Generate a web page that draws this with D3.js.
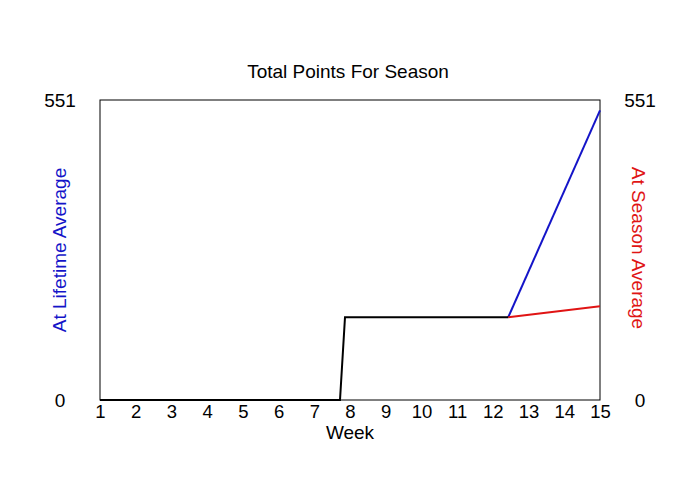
<!DOCTYPE html>
<html>
<head>
<meta charset="utf-8">
<script src="https://cdn.jsdelivr.net/npm/d3@7"></script>
<style>
  body { margin: 0; background: #fff; }
  text { font-family: Arial, "Liberation Sans", sans-serif; }
</style>
</head>
<body>
<div id="chart"></div>
<script>
// données
const weeks = [1, 7.72, 7.86, 12.43];
const actualPts = [0, 0, 152, 152];
const projWeeks = [12.43, 15];
const lifetimePts = [152, 532];
const seasonPts = [152, 172];
const weekTicks = d3.range(1, 16);
const yTicks = [0, 551];

const width = 700, height = 500;
const margin = { top: 100, right: 100, bottom: 100, left: 100 };
const font = "Arial, 'Liberation Sans', sans-serif";

const svg = d3.select("#chart").append("svg")
  .attr("width", width)
  .attr("height", height);

const x = d3.scaleLinear().domain([1, 15]).range([margin.left, width - margin.right]);
const y = d3.scaleLinear().domain([0, 551]).range([height - margin.bottom, margin.top]);

// cadre
svg.append("rect")
  .attr("x", x(1)).attr("y", y(551))
  .attr("width", x(15) - x(1)).attr("height", y(0) - y(551))
  .attr("fill", "none").attr("stroke", "#000").attr("stroke-width", 1);

// axe x
const gx = svg.append("g")
  .attr("transform", `translate(0,${y(0)})`)
  .call(d3.axisBottom(x).tickValues(weekTicks).tickSize(0).tickPadding(5).tickFormat(d3.format("d")));
gx.select(".domain").remove();
gx.selectAll("text").attr("font-size", 18.5).attr("fill", "#000").attr("font-family", font);

// axes y
const gyL = svg.append("g")
  .attr("transform", `translate(${x(1)},0)`)
  .call(d3.axisLeft(y).tickValues(yTicks).tickSize(0).tickFormat(d3.format("d")));
gyL.select(".domain").remove();
gyL.selectAll("text").attr("x", -40).attr("text-anchor", "middle")
  .attr("font-size", 19).attr("fill", "#000").attr("font-family", font);

const gyR = svg.append("g")
  .attr("transform", `translate(${x(15)},0)`)
  .call(d3.axisRight(y).tickValues(yTicks).tickSize(0).tickFormat(d3.format("d")));
gyR.select(".domain").remove();
gyR.selectAll("text").attr("x", 40).attr("text-anchor", "middle")
  .attr("font-size", 19).attr("fill", "#000").attr("font-family", font);

// lignes
const line = d3.line().x(d => x(d[0])).y(d => y(d[1]));

svg.append("path")
  .datum(d3.zip(projWeeks, lifetimePts))
  .attr("d", line)
  .attr("fill", "none").attr("stroke", "#1414c8").attr("stroke-width", 2);

svg.append("path")
  .datum(d3.zip(projWeeks, seasonPts))
  .attr("d", line)
  .attr("fill", "none").attr("stroke", "#e01414").attr("stroke-width", 2);

svg.append("path")
  .datum(d3.zip(weeks, actualPts))
  .attr("d", line)
  .attr("fill", "none").attr("stroke", "#000").attr("stroke-width", 2);

// textes
svg.append("text")
  .attr("x", 348).attr("y", 78)
  .attr("text-anchor", "middle").attr("font-size", 19)
  .text("Total Points For Season");

svg.append("text")
  .attr("x", 350).attr("y", 439)
  .attr("text-anchor", "middle").attr("font-size", 19)
  .text("Week");

svg.append("text")
  .attr("transform", `translate(66,250) rotate(-90)`)
  .attr("text-anchor", "middle").attr("font-size", 19)
  .attr("fill", "#1414c8")
  .text("At Lifetime Average");

svg.append("text")
  .attr("transform", `translate(632,248) rotate(90)`)
  .attr("text-anchor", "middle").attr("font-size", 19)
  .attr("fill", "#e01414")
  .text("At Season Average");
</script>
</body>
</html>
